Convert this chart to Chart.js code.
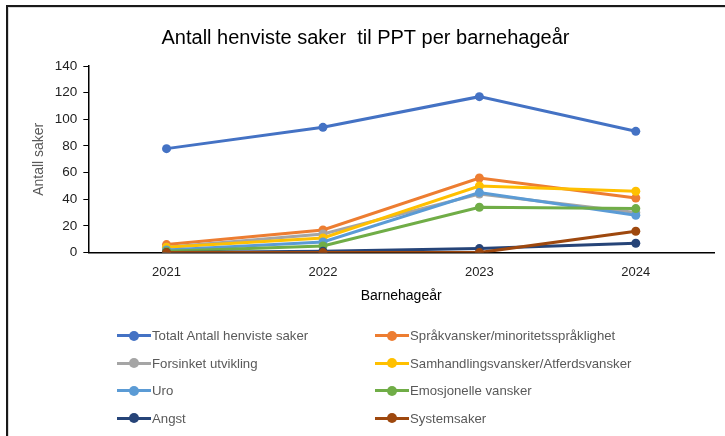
<!DOCTYPE html>
<html>
<head>
<meta charset="utf-8">
<script src="https://cdn.jsdelivr.net/npm/chart.js@4/dist/chart.umd.min.js"></script>
<style>
  body { margin: 0; background: #fff; }
  #wrap { position: relative; width: 725px; height: 436px; overflow: hidden; }
  #grafico { position: absolute; left: 0; top: 0; }
  #frameTop { position: absolute; left: 6px; top: 5px; width: 719px; height: 2px; background: #1a1a1a; }
  #frameTop2 { position: absolute; left: 8px; top: 7px; width: 717px; height: 1px; background: #d9d9d9; }
  #frameLeft { position: absolute; left: 6px; top: 5px; width: 2px; height: 431px; background: #1a1a1a; }
  #frameLeft2 { position: absolute; left: 8px; top: 7px; width: 1px; height: 429px; background: #d9d9d9; }
  #legenda { position: absolute; left: 117px; top: 322px; width: 580px;
    display: grid; grid-template-columns: 258px 310px; grid-auto-rows: 27.5px;
    font-family: "Liberation Sans", Arial, sans-serif; font-size: 13.2px; color: #595959; }
  .item { display: flex; align-items: center; white-space: nowrap; height: 27.5px; }
  .linje { position: relative; width: 34px; height: 3px; margin-right: 1px; }
  .linje span { position: absolute; left: 12px; top: -3.5px; width: 10px; height: 10px; border-radius: 50%; }
</style>
</head>
<body>
<div id="wrap">
  <canvas id="grafico" width="725" height="436"></canvas>
  <div id="frameTop"></div><div id="frameTop2"></div>
  <div id="frameLeft"></div><div id="frameLeft2"></div>
  <div id="legenda"></div>
</div>
<script>
const aar = ["2021", "2022", "2023", "2024"];

const totalt = [78, 94, 117, 91];
const sprak = [6, 17, 56, 41];
const forsinket = [4, 14, 44, 30];
const samhandling = [4, 11, 50, 46];
const uro = [2, 8, 45, 28];
const emosjonelle = [1, 5, 34, 33];
const angst = [0, 1, 3, 7];
const systemsaker = [0, 0, 0, 16];

const navn = [
  "Totalt Antall henviste saker",
  "Språkvansker/minoritetsspråklighet",
  "Forsinket utvikling",
  "Samhandlingsvansker/Atferdsvansker",
  "Uro",
  "Emosjonelle vansker",
  "Angst",
  "Systemsaker",
];
const serier = [totalt, sprak, forsinket, samhandling, uro, emosjonelle, angst, systemsaker];
const farger = ["#4472C4", "#ED7D31", "#A5A5A5", "#FFC000", "#5B9BD5", "#70AD47", "#264478", "#9E480E"];

const fonte = "'Liberation Sans', Arial, sans-serif";

const datasets = [];
for (let i = 0; i < serier.length; i++) {
  datasets.push({
    label: navn[i],
    data: serier[i],
    borderColor: farger[i],
    backgroundColor: farger[i],
    borderWidth: 3,
    pointRadius: 4.5,
    pointHoverRadius: 4.5,
    pointBorderWidth: 0,
    tension: 0,
    order: serier.length - i,
  });
}

const config = {
  type: "line",
  data: { labels: aar, datasets: datasets },
  options: {
    animation: false,
    responsive: false,
    layout: { padding: { top: 8, left: 17, right: 11, bottom: 127 } },
    plugins: {
      legend: { display: false },
      tooltip: { enabled: false },
      title: {
        display: true,
        text: "Antall henviste saker  til PPT per barnehageår",
        color: "#000",
        font: { family: fonte, size: 20, weight: "normal" },
        padding: { top: 18, bottom: 16 },
      },
    },
    scales: {
      x: {
        offset: true,
        grid: { display: false },
        border: { display: true, color: "#000", width: 1.5 },
        ticks: { color: "#222", font: { family: fonte, size: 13 }, padding: 4 },
        title: {
          display: true,
          text: "Barnehageår",
          color: "#000",
          font: { family: fonte, size: 14 },
          padding: { top: 4 },
        },
      },
      y: {
        min: 0,
        max: 140,
        ticks: { stepSize: 20, color: "#222", font: { family: fonte, size: 13.5 }, padding: 6 },
        grid: { drawOnChartArea: false, drawTicks: true, tickLength: 5, color: "#000" },
        border: { display: true, color: "#000", width: 1.5 },
        title: {
          display: true,
          text: "Antall saker",
          color: "#595959",
          font: { family: fonte, size: 14 },
          padding: { top: 14, bottom: 1 },
        },
      },
    },
  },
};

const grafico = new Chart(document.getElementById("grafico"), config);

// legende i to kolonner som i originalen
const legenda = document.getElementById("legenda");
for (let i = 0; i < navn.length; i++) {
  const item = document.createElement("div");
  item.className = "item";
  item.innerHTML =
    '<div class="linje" style="background:' + farger[i] + '"><span style="background:' + farger[i] + '"></span></div>' +
    "<div>" + navn[i] + "</div>";
  legenda.appendChild(item);
}
</script>
</body>
</html>
